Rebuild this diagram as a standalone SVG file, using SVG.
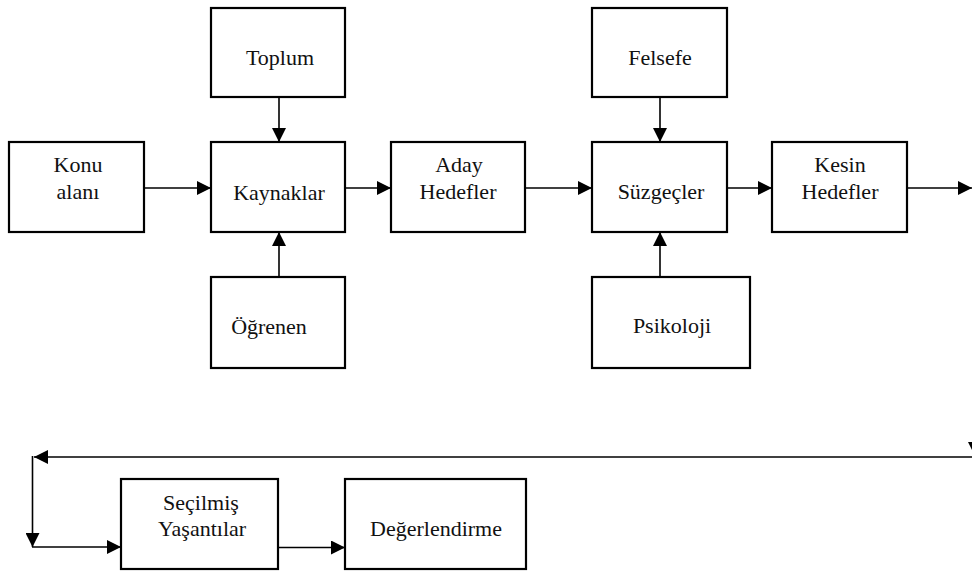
<svg xmlns="http://www.w3.org/2000/svg" width="972" height="574" viewBox="0 0 972 574">
<defs>
<style>
.box{fill:#fff;stroke:#000;stroke-width:2.2}
.t{font-size:22px;fill:#111;text-anchor:middle}
.c{fill:none;stroke:#000;stroke-width:1.6}
</style>
<marker id="ah" viewBox="0 0 14 14" refX="14" refY="7" markerWidth="14" markerHeight="14" markerUnits="userSpaceOnUse" orient="auto">
<path d="M0,0 L14,7 L0,14 z" fill="#000"/>
</marker>
</defs>
<rect width="972" height="574" fill="#fff"/>
<g id="connectors">
<path class="c" d="M279,97 L279,142" marker-end="url(#ah)"/>
<path class="c" d="M279,277 L279,232" marker-end="url(#ah)"/>
<path class="c" d="M144,188 L211,188" marker-end="url(#ah)"/>
<path class="c" d="M345,188 L391,188" marker-end="url(#ah)"/>
<path class="c" d="M525,188 L592,188" marker-end="url(#ah)"/>
<path class="c" d="M660,97 L660,142" marker-end="url(#ah)"/>
<path class="c" d="M660,277 L660,232" marker-end="url(#ah)"/>
<path class="c" d="M727,188 L772,188" marker-end="url(#ah)"/>
<path class="c" d="M907,188 L972,188" marker-end="url(#ah)"/>
<path class="c" d="M975,430 L975,456" marker-end="url(#ah)"/>
<path class="c" d="M972,457 L34,457" marker-end="url(#ah)"/>
<path class="c" d="M32.5,456 L32.5,547" marker-end="url(#ah)"/>
<path class="c" d="M32,547 L121,547" marker-end="url(#ah)"/>
<path class="c" d="M278,547.5 L345,547.5" marker-end="url(#ah)"/>
</g>
<g font-family="Liberation Serif, Times New Roman, serif">
<g id="toplum"><rect class="box" x="211" y="8" width="134" height="89"/><text class="t" font-family="Liberation Serif" x="280" y="65">Toplum</text></g>
<g id="konu"><rect class="box" x="9" y="142" width="135" height="90"/><text class="t" font-family="Liberation Serif" x="78" y="172">Konu</text><text class="t" font-family="Liberation Serif" x="78" y="199">alanı</text></g>
<g id="kaynaklar"><rect class="box" x="211" y="142" width="134" height="90"/><text class="t" font-family="Liberation Serif" x="279" y="200">Kaynaklar</text></g>
<g id="ogrenen"><rect class="box" x="211" y="277" width="134" height="91"/><text class="t" font-family="Liberation Serif" x="269" y="334">Öğrenen</text></g>
<g id="aday"><rect class="box" x="391" y="142" width="134" height="90"/><text class="t" font-family="Liberation Serif" x="459" y="172">Aday</text><text class="t" font-family="Liberation Serif" x="458" y="199">Hedefler</text></g>
<g id="felsefe"><rect class="box" x="592" y="8" width="135" height="89"/><text class="t" font-family="Liberation Serif" x="660" y="65">Felsefe</text></g>
<g id="suzgecler"><rect class="box" x="592" y="142" width="135" height="90"/><text class="t" font-family="Liberation Serif" x="661" y="199">Süzgeçler</text></g>
<g id="psikoloji"><rect class="box" x="592" y="277" width="158" height="91"/><text class="t" font-family="Liberation Serif" x="672" y="333">Psikoloji</text></g>
<g id="kesin"><rect class="box" x="772" y="142" width="135" height="90"/><text class="t" font-family="Liberation Serif" x="840" y="172">Kesin</text><text class="t" font-family="Liberation Serif" x="840" y="199">Hedefler</text></g>
<g id="secilmis"><rect class="box" x="121" y="479" width="157" height="90"/><text class="t" font-family="Liberation Serif" x="201" y="510">Seçilmiş</text><text class="t" font-family="Liberation Serif" x="202" y="536">Yaşantılar</text></g>
<g id="degerlendirme"><rect class="box" x="345" y="479" width="181" height="90"/><text class="t" font-family="Liberation Serif" x="436" y="536">Değerlendirme</text></g>
</g>
</svg>
